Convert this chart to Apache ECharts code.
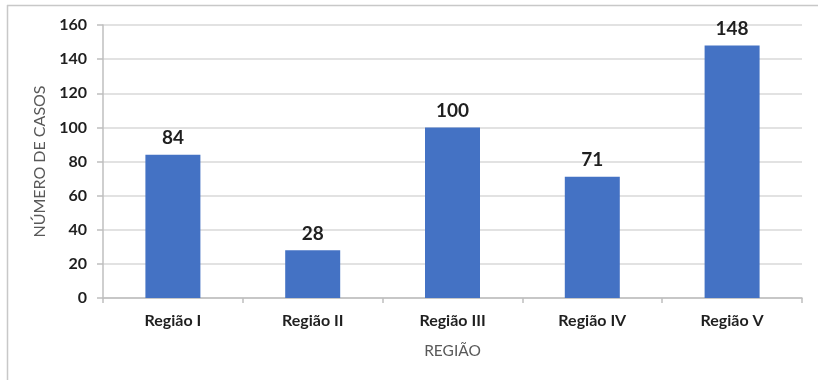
<!DOCTYPE html>
<html>
<head>
<meta charset="utf-8">
<script src="https://cdn.jsdelivr.net/npm/echarts@6/dist/echarts.min.js"></script>
<style>
  html, body { margin: 0; padding: 0; background: #ffffff; }
  #chart { width: 818px; height: 380px; }
</style>
</head>
<body>
<div id="chart"></div>
<script>
// Casos por região
const categories = ['Região I', 'Região II', 'Região III', 'Região IV', 'Região V'];
const casos = [84, 28, 100, 71, 148];
const yTicks = [0, 20, 40, 60, 80, 100, 120, 140, 160];

const FONT = 'Lato, "Open Sans", "Liberation Sans", sans-serif';
const chart = echarts.init(document.getElementById('chart'), null, { renderer: 'canvas' });

chart.setOption({
  backgroundColor: '#ffffff',
  animation: false,
  textStyle: { fontFamily: FONT },
  graphic: [
    // frame around the chart area (top and left edges)
    { type: 'line', shape: { x1: 7, y1: 5.5, x2: 818, y2: 5.5 }, style: { stroke: '#c8c8c8', lineWidth: 1.5 } },
    { type: 'line', shape: { x1: 7.5, y1: 5, x2: 7.5, y2: 380 }, style: { stroke: '#c8c8c8', lineWidth: 1.5 } }
  ],
  grid: { left: 103, right: 16, top: 25, bottom: 82, containLabel: false },
  xAxis: {
    type: 'category',
    data: categories,
    name: 'REGIÃO',
    nameLocation: 'middle',
    nameGap: 45,
    nameTextStyle: { fontFamily: FONT, fontSize: 15.5, color: '#595959' },
    axisLine: { show: true, lineStyle: { color: '#bfbfbf', width: 1.5 } },
    axisTick: { show: true, alignWithLabel: false, length: 5, lineStyle: { color: '#bfbfbf', width: 1.5 } },
    axisLabel: { fontFamily: FONT, fontSize: 16, fontWeight: 'bold', color: '#1f1f1f', margin: 15 }
  },
  yAxis: {
    type: 'value',
    min: yTicks[0],
    max: yTicks[yTicks.length - 1],
    interval: yTicks[1] - yTicks[0],
    name: 'NÚMERO DE CASOS',
    nameLocation: 'middle',
    nameGap: 49,
    nameRotate: 90,
    nameTextStyle: { fontFamily: FONT, fontSize: 16, color: '#595959' },
    axisLine: { show: true, lineStyle: { color: '#bfbfbf', width: 1.5 } },
    axisTick: { show: true, inside: false, length: 6, lineStyle: { color: '#bfbfbf', width: 1.5 } },
    axisLabel: { fontFamily: FONT, fontSize: 16, fontWeight: 'bold', color: '#1f1f1f', margin: 16 },
    splitLine: { show: true, lineStyle: { color: '#d9d9d9', width: 1.5 } }
  },
  series: [{
    type: 'bar',
    data: casos,
    barWidth: 55,
    itemStyle: { color: '#4472c4' },
    label: {
      show: true,
      position: 'top',
      distance: 7,
      fontFamily: FONT,
      fontSize: 19,
      fontWeight: 'bold',
      color: '#1f1f1f'
    }
  }]
});
</script>
</body>
</html>
